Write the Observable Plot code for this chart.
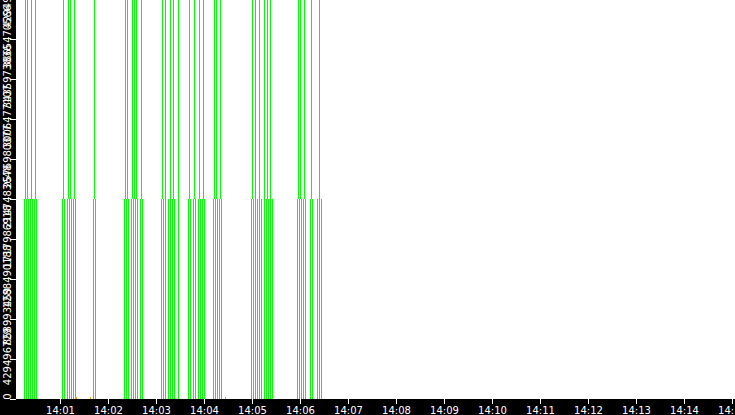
<!DOCTYPE html>
<html>
<head>
<meta charset="utf-8">
<script src="https://cdn.jsdelivr.net/npm/d3@7"></script>
<script src="https://cdn.jsdelivr.net/npm/@observablehq/plot@0.6"></script>
<style>
  html, body { margin: 0; padding: 0; background: #000; }
  #chart { width: 735px; height: 415px; overflow: hidden; }
</style>
</head>
<body>
<div id="chart"></div>
<script>
// Seconds after 14:00:00 for each event
const lowerTimes = [
  15, 17.5, 20, 22.5, 25, 27.5, 30,
  62.5, 65, 68.75, 71.25, 73.75, 76.25, 78.75,
  101.25, 103.75,
  140, 142.5, 145, 148.75, 151.25, 153.75, 156.25, 160, 162.5,
  186.25, 188.75, 191.25, 195, 197.5, 200, 202.5, 207.5,
  220, 222.5, 226.25, 228.75, 232.5, 235, 237.5, 240,
  251.25, 253.75, 256.25, 258.75, 261.25,
  298.75, 301.25, 303.75, 306.25, 308.75, 311.25, 315, 317.5, 320, 322.5, 325,
  356.25, 358.75, 361.25, 363.75, 366.25, 372.5, 375, 381.25, 383.75, 386.25
];
const upperTimes = [
  16.25, 18.75, 23.75, 28.75,
  63.75, 70, 72.5, 77.5,
  102.5,
  141.25, 143.75, 150, 152.5, 155, 161.25,
  187.5, 191.25, 197.5, 201.25, 207.5,
  221.25, 227.5, 233.75, 238.75,
  252.5, 255, 260,
  300, 303.75, 308.75, 315, 318.75, 322.5,
  357.5, 360, 365, 373.75, 383.75
];
const orangeTimes = [80, 97.5, 266.25];

const lowerValue = 2147483648;
const upperValue = 4294967296;
const orangeValue = 21000000;

const yTicks = [0, 429496729.6, 858993459.2, 1288490188.8, 1717986918.4, 2147483648,
                2576980377.6, 3006477107.2, 3435973836.8, 3865470566.4, 4294967296];
const yTickLabels = ["0", "429496729", "858993459", "1288490188", "1717986918", "2147483648",
                     "2576980377", "3006477107", "3435973836", "3865470566", "4294967296"];
const xTickMinutes = [1, 2, 3, 4, 5, 6, 7, 8, 9, 10, 11, 12, 13, 14, 15];

const base = Date.UTC(2024, 0, 1, 14, 0, 0);
const at = (s) => new Date(base + s * 1000);

const lower = lowerTimes.map(s => ({t: at(s), y1: 0, y2: lowerValue}));
const upper = upperTimes.map(s => ({t: at(s), y1: lowerValue, y2: upperValue}));
const orange = orangeTimes.map(s => ({t: at(s), y1: 0, y2: orangeValue}));
const xTicks = xTickMinutes.map(m => at(m * 60));

const chart = Plot.plot({
  width: 735,
  height: 415,
  marginLeft: 16,
  marginRight: 0,
  marginTop: 0,
  marginBottom: 16,
  style: {background: "black", color: "white", fontFamily: "DejaVu Sans", fontSize: "10px"},
  x: {type: "utc", domain: [at(5), at(903.75)], range: [16, 735]},
  y: {domain: [0, upperValue], range: [399, -1]},
  marks: [
    Plot.frame({fill: "white", stroke: null, insetTop: -0.5, insetLeft: -0.5, insetBottom: 0.5, insetRight: -1}),
    Plot.ruleX(lower, {x: "t", y1: "y1", y2: "y2", stroke: "#00ff00"}),
    Plot.ruleX(upper, {x: "t", y1: "y1", y2: "y2", stroke: "#00ff00"}),
    Plot.ruleX(orange, {x: "t", y1: "y1", y2: "y2", stroke: "#ffa500"}),
    Plot.axisX({ticks: xTicks, tickFormat: d3.utcFormat("%H:%M"), tickSize: 5, tickPadding: 2,
                stroke: "white", fill: "white", fontSize: 10, label: null}),
    Plot.axisY({ticks: yTicks, tickSize: 6, stroke: "white", fill: "none", label: null}),
    Plot.axisY({ticks: yTicks, tickFormat: (d, i) => yTickLabels[i], tickSize: 6, tickPadding: 0,
                tickRotate: -90, stroke: "none", fill: "white", fontSize: 10, dy: -3, label: null})
  ]
});
document.getElementById("chart").appendChild(chart);
</script>
</body>
</html>
